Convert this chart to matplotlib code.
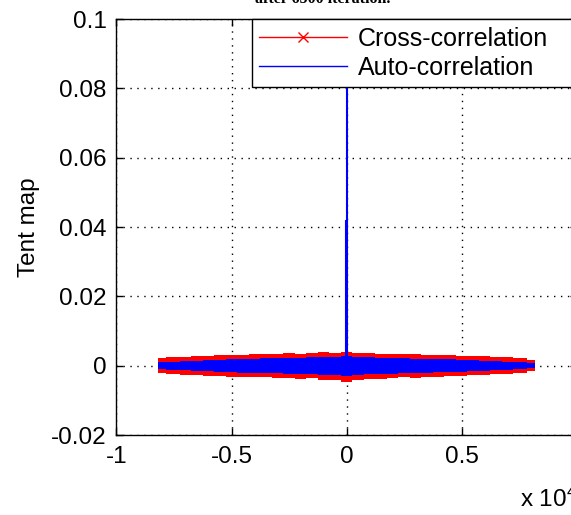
import matplotlib
matplotlib.use("Agg")
import matplotlib.pyplot as plt
from matplotlib.lines import Line2D

# lag axis in units of 1e4
lag = [-0.82, -0.75, -0.70, -0.65, -0.60, -0.55, -0.50, -0.45, -0.40, -0.35, -0.30,
       -0.25, -0.20, -0.15, -0.10, -0.05, 0.00, 0.05, 0.10, 0.15, 0.20, 0.25,
       0.30, 0.35, 0.40, 0.45, 0.50, 0.55, 0.60, 0.65, 0.70, 0.75, 0.82]

# envelope of the cross-correlation noise
cross_upper = [0.0023, 0.0026, 0.0026, 0.0029, 0.0029, 0.0032, 0.0032, 0.0032, 0.0035, 0.0035, 0.0035,
               0.0038, 0.0035, 0.0038, 0.0040, 0.0038, 0.0040, 0.0038, 0.0038, 0.0035, 0.0035, 0.0035,
               0.0035, 0.0032, 0.0032, 0.0032, 0.0029, 0.0029, 0.0029, 0.0026, 0.0026, 0.0023, 0.0017]
cross_lower = [-0.0020, -0.0023, -0.0026, -0.0026, -0.0029, -0.0029, -0.0032, -0.0032, -0.0032, -0.0032, -0.0035,
               -0.0035, -0.0038, -0.0035, -0.0040, -0.0040, -0.0046, -0.0040, -0.0038, -0.0038, -0.0035, -0.0032,
               -0.0035, -0.0032, -0.0032, -0.0029, -0.0029, -0.0026, -0.0026, -0.0023, -0.0023, -0.0020, -0.0014]

# envelope of the auto-correlation side lobes
auto_upper = [0.0010, 0.0012, 0.0014, 0.0014, 0.0017, 0.0017, 0.0020, 0.0020, 0.0020, 0.0023, 0.0023,
              0.0023, 0.0023, 0.0026, 0.0026, 0.0026, 0.0029, 0.0026, 0.0026, 0.0023, 0.0023, 0.0023,
              0.0020, 0.0020, 0.0020, 0.0020, 0.0017, 0.0017, 0.0014, 0.0014, 0.0012, 0.0012, 0.0009]
auto_lower = [-0.0010, -0.0012, -0.0012, -0.0014, -0.0014, -0.0017, -0.0017, -0.0020, -0.0020, -0.0020, -0.0020,
              -0.0023, -0.0023, -0.0023, -0.0026, -0.0026, -0.0029, -0.0026, -0.0023, -0.0023, -0.0023, -0.0020,
              -0.0020, -0.0020, -0.0017, -0.0017, -0.0017, -0.0014, -0.0014, -0.0012, -0.0012, -0.0009, -0.0006]

# main peak of the auto-correlation
peak_lag = [-0.004, 0.0]
peak_val = [0.042, 1.0]

xticks = [-1, -0.5, 0, 0.5]
xtick_labels = ["-1", "-0.5", "0", "0.5"]
yticks = [-0.02, 0, 0.02, 0.04, 0.06, 0.08, 0.1]
ytick_labels = ["-0.02", "0", "0.02", "0.04", "0.06", "0.08", "0.1"]

plt.rcParams['font.family'] = ['Liberation Sans', 'DejaVu Sans']
plt.rcParams['mathtext.default'] = 'regular'
fs = 17.5

fig = plt.figure(figsize=(5.71, 5.15), dpi=100)
ax = fig.add_axes([0.204, 0.155, 0.806, 0.808])

grid_style = (0, (1, 4))
for xv in xticks:
    ax.axvline(xv, color='black', lw=1.0, ls=grid_style, zorder=0)
for yv in yticks:
    ax.axhline(yv, color='black', lw=1.0, ls=grid_style, zorder=0)

ax.fill_between(lag, cross_lower, cross_upper, step='mid', color='red', lw=0, zorder=2)
ax.fill_between(lag, auto_lower, auto_upper, step='mid', color='blue', lw=0, zorder=3)
ax.vlines(peak_lag, 0, peak_val, color='blue', lw=1.5, zorder=3)

ax.set_xlim(-1, 1)
ax.set_ylim(-0.02, 0.1)
ax.set_xticks(xticks)
ax.set_xticklabels(xtick_labels)
ax.set_yticks(yticks)
ax.set_yticklabels(ytick_labels)
ax.tick_params(direction='in', length=5, width=1, labelsize=fs, top=True, right=True, pad=7)
ax.tick_params(axis='x', pad=8)
for s in ax.spines.values():
    s.set_linewidth(1.0)

ax.set_ylabel("Tent map", fontsize=fs, labelpad=8)

handles = [Line2D([], [], color='red', marker='x', markersize=7, lw=1),
           Line2D([], [], color='blue', lw=1)]
leg = ax.legend(handles, ["Cross-correlation", "Auto-correlation"], loc='upper left',
                bbox_to_anchor=(0.294, 0.8, 0.706, 0.2), mode='expand', borderaxespad=0, fontsize=18,
                handlelength=3.5, handletextpad=0.45, labelspacing=0.2,
                borderpad=0.3, fancybox=False, framealpha=1, edgecolor='black')
leg.get_frame().set_linewidth(1.0)
leg.set_zorder(10)

fig.text(520 / 571, 8 / 515, "x 10$^4$", fontsize=fs, ha='left', va='baseline')
fig.text(323 / 571, 1 - 3 / 515, "after 6500 iteration.", fontsize=11.5,
         family='Liberation Serif', fontweight='bold', ha='center', va='baseline')

fig.savefig("out.png", dpi=100)
